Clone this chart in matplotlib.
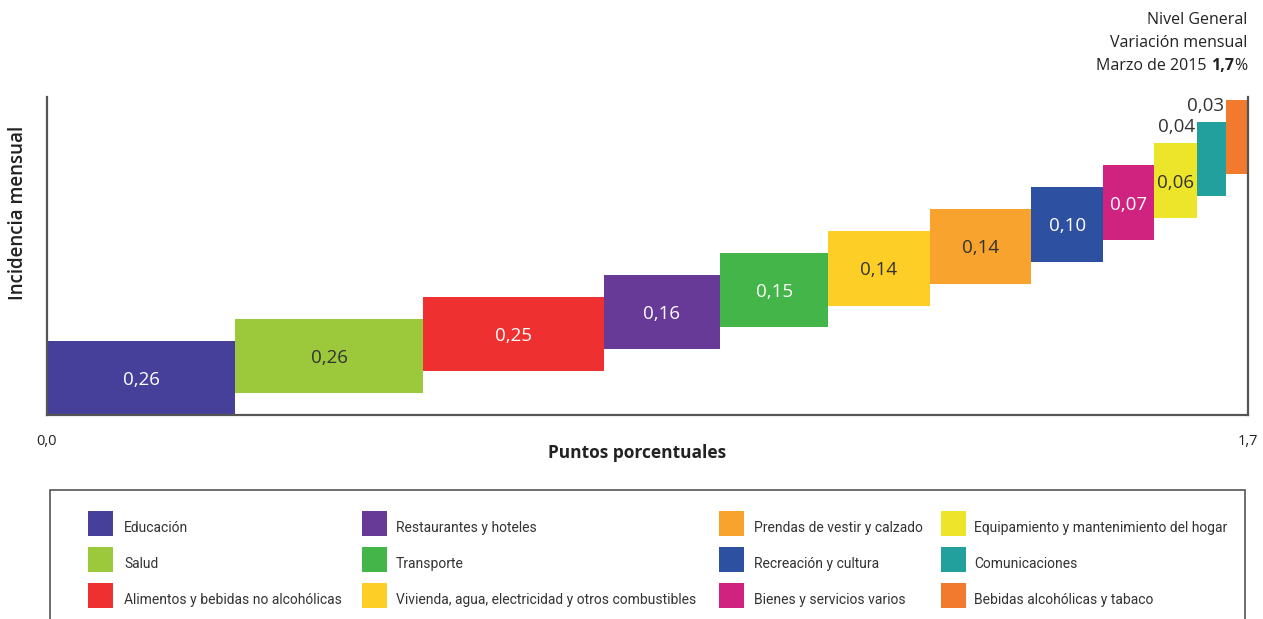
import matplotlib
matplotlib.use("Agg")
import matplotlib.pyplot as plt
from matplotlib import font_manager
from matplotlib.patches import Rectangle
import numpy as np

categories = ["Educación", "Salud", "Alimentos y bebidas no alcohólicas",
              "Restaurantes y hoteles", "Transporte",
              "Vivienda, agua, electricidad y otros combustibles",
              "Prendas de vestir y calzado", "Recreación y cultura",
              "Bienes y servicios varios", "Equipamiento y mantenimiento del hogar",
              "Comunicaciones", "Bebidas alcohólicas y tabaco"]
values = [0.26, 0.26, 0.25, 0.16, 0.15, 0.14, 0.14, 0.10, 0.07, 0.06, 0.04, 0.03]
colors = ["#47409A", "#9BC93B", "#EE3030", "#683A98", "#43B549", "#FDCF26",
          "#F7A32D", "#2E50A0", "#D0237F", "#ECE52A", "#22A09E", "#F27A2E"]
label_colors = ["white", "#333333", "white", "white", "white", "#333333",
                "#333333", "white", "white", "#333333", "#333333", "#333333"]
outside = [False] * 10 + [True, True]
total_label = "1,7"
xtick_labels = ["0,0", "1,7"]

names = {f.name for f in font_manager.fontManager.ttflist}
main_font = "Open Sans" if "Open Sans" in names else "DejaVu Sans"
narrow_font = "Roboto" if "Roboto" in names else main_font
plt.rcParams["font.family"] = main_font

W, H = 1263, 619
fig = plt.figure(figsize=(W / 100, H / 100), dpi=100)
ax = fig.add_axes([47 / W, 1 - 415 / H, (1248 - 47) / W, (415 - 97) / H])

step = 21.9
bar_h = 74.5
lefts = np.concatenate([[0], np.cumsum(values)[:-1]])
bottoms = np.arange(len(values)) * step
ax.bar(lefts, bar_h, width=values, bottom=bottoms, align="edge",
       color=colors, linewidth=0, zorder=2)

for i, v in enumerate(values):
    txt = f"{v:.2f}".replace(".", ",")
    if outside[i]:
        ax.text(lefts[i] - 0.003, bottoms[i] + bar_h - 6, txt, ha="right", va="center",
                fontsize=13.5, color=label_colors[i], zorder=3)
    else:
        ax.text(lefts[i] + values[i] / 2, bottoms[i] + bar_h / 2 - 2, txt,
                ha="center", va="center", fontsize=13.5, color=label_colors[i], zorder=3)

total = float(np.sum(values))
ax.set_xlim(0, total)
ax.set_ylim(0, 318)
ax.set_xticks([0, total])
ax.set_xticklabels(xtick_labels, fontsize=10.5, color="#222222")
ax.tick_params(axis="x", length=0, pad=14)
ax.set_yticks([])
for s in ["left", "bottom", "right"]:
    ax.spines[s].set_color("#555555")
    ax.spines[s].set_linewidth(1.6)
ax.spines["top"].set_visible(False)

fig.text(637 / W, 1 - 453 / H, "Puntos porcentuales", ha="center", va="center",
         fontsize=12.5, fontweight="bold", color="#222222")
fig.text(18 / W, 1 - 213 / H, "Incidencia mensual", ha="center", va="center",
         rotation=90, fontsize=13.5, fontweight="semibold", color="#222222")

# title top right
fig.text(1247 / W, 1 - 20 / H, "Nivel General", ha="right", va="center",
         fontsize=11.5, color="#222222")
fig.text(1247 / W, 1 - 43 / H, "Variación mensual", ha="right", va="center",
         fontsize=11.5, color="#222222")
fig.canvas.draw()
r = fig.canvas.get_renderer()
t1 = fig.text(1247 / W, 1 - 66 / H, "%", ha="right", va="center",
              fontsize=11.5, color="#222222")
bb = t1.get_window_extent(r)
t2 = fig.text(bb.x0 / W, 1 - 66 / H, total_label, ha="right", va="center",
              fontsize=11.5, fontweight="bold", color="#222222")
bb2 = t2.get_window_extent(r)
fig.text(bb2.x0 / W, 1 - 66 / H, "Marzo de 2015 ", ha="right", va="center",
         fontsize=11.5, color="#222222")

# legend box
fig.patches.append(Rectangle((50 / W, 1 - 625 / H), (1245 - 50) / W, (625 - 490) / H,
                             transform=fig.transFigure, facecolor="none",
                             edgecolor="#555555", linewidth=1.2))
sw_x = [88, 362, 719, 941]
tx_x = [124, 396, 754, 974]
row_y = [511, 547, 583]
for i, (cat, col) in enumerate(zip(categories, colors)):
    c, rr = divmod(i, 3)
    fig.patches.append(Rectangle((sw_x[c] / W, 1 - (row_y[rr] + 25) / H), 25 / W, 25 / H,
                                 transform=fig.transFigure, facecolor=col, linewidth=0))
    fig.text(tx_x[c] / W, 1 - (row_y[rr] + 17) / H, cat, ha="left", va="center",
             fontsize=10, color="#333333", family=narrow_font)

fig.savefig("out.png", dpi=100)
